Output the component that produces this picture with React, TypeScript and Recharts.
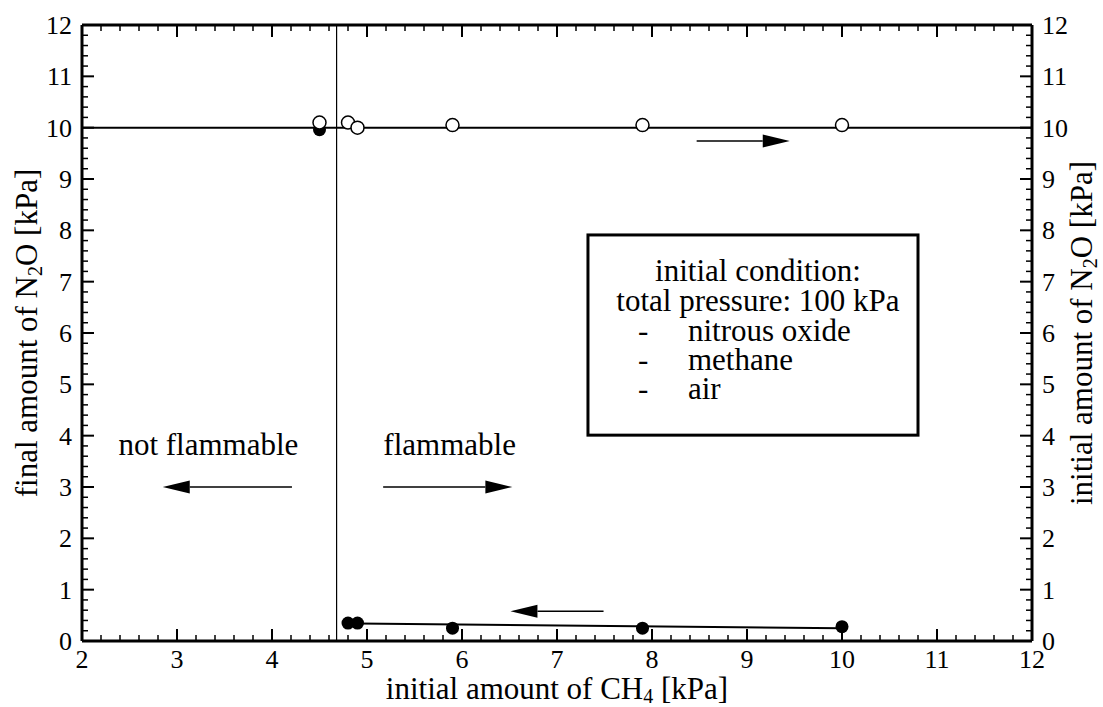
import { ComposedChart, Scatter, XAxis, YAxis, ReferenceLine, ReferenceArea, ReferenceDot } from 'recharts';

const FONT = '"Liberation Serif", "Times New Roman", serif';

// major tick labels (minor ticks every 0.2 in between)
const xMajorTicks = [2, 3, 4, 5, 6, 7, 8, 9, 10, 11, 12];
const yMajorTicks = [0, 1, 2, 3, 4, 5, 6, 7, 8, 9, 10, 11, 12];

// final amount of N2O (filled circles, left axis)
const finalN2O = [
  { x: 4.5, y: 9.96 },
  { x: 4.8, y: 0.35 },
  { x: 4.9, y: 0.35 },
  { x: 5.9, y: 0.25 },
  { x: 7.9, y: 0.25 },
  { x: 10.0, y: 0.28 },
];

// initial amount of N2O (open circles, right axis)
const initialN2O = [
  { x: 4.5, y: 10.1 },
  { x: 4.8, y: 10.1 },
  { x: 4.9, y: 10.0 },
  { x: 5.9, y: 10.05 },
  { x: 7.9, y: 10.05 },
  { x: 10.0, y: 10.05 },
];

const finalFit = [
  { x: 4.9, y: 0.34 },
  { x: 10.0, y: 0.25 },
];

const initialLevel = 10;
const flammabilityLimit = 4.68;

// arrows: from tail to head
const arrows = [
  { from: 8.47, to: 9.45, y: 9.74 },
  { from: 4.21, to: 2.85, y: 3.0 },
  { from: 5.17, to: 6.53, y: 3.0 },
  { from: 7.49, to: 6.51, y: 0.58 },
];

const notes = [
  { x: 3.33, y: 3.62, text: 'not flammable' },
  { x: 5.87, y: 3.62, text: 'flammable' },
];

const legendLines = ['initial condition:', 'total pressure: 100 kPa'];
const legendItems = ['nitrous oxide', 'methane', 'air'];

function subdivide(majors: number[]) {
  const out: number[] = [];
  for (let i = 0; i < majors.length - 1; i++) {
    for (let k = 0; k < 5; k++) out.push(Math.round((majors[i] + k * 0.2) * 10) / 10);
  }
  out.push(majors[majors.length - 1]);
  return out;
}
const xTicks = subdivide(xMajorTicks);
const yTicks = subdivide(yMajorTicks);

const isMajor = (v: number) => Math.abs(v - Math.round(v)) < 1e-6;

function BottomTick(props: any) {
  const { x, y, payload } = props;
  const m = isMajor(payload.value);
  return (
    <g>
      <line x1={x} x2={x} y1={y} y2={y - (m ? 12 : 6)} stroke="#000" strokeWidth={m ? 2 : 1.5} />
      {m && (
        <text x={x} y={y + 27} textAnchor="middle" fontSize={26} fontFamily={FONT} fill="#000">
          {Math.round(payload.value)}
        </text>
      )}
    </g>
  );
}

function TopTick(props: any) {
  const { x, y, payload } = props;
  const m = isMajor(payload.value);
  return <line x1={x} x2={x} y1={y} y2={y + (m ? 12 : 6)} stroke="#000" strokeWidth={m ? 2 : 1.5} />;
}

function LeftTick(props: any) {
  const { x, y, payload } = props;
  const m = isMajor(payload.value);
  return (
    <g>
      <line x1={x} x2={x + (m ? 12 : 6)} y1={y} y2={y} stroke="#000" strokeWidth={m ? 2 : 1.5} />
      {m && (
        <text x={x - 10} y={y + 9} textAnchor="end" fontSize={26} fontFamily={FONT} fill="#000">
          {Math.round(payload.value)}
        </text>
      )}
    </g>
  );
}

function RightTick(props: any) {
  const { x, y, payload } = props;
  const m = isMajor(payload.value);
  return (
    <g>
      <line x1={x} x2={x - (m ? 12 : 6)} y1={y} y2={y} stroke="#000" strokeWidth={m ? 2 : 1.5} />
      {m && (
        <text x={x + 10} y={y + 9} textAnchor="start" fontSize={26} fontFamily={FONT} fill="#000">
          {Math.round(payload.value)}
        </text>
      )}
    </g>
  );
}

function Arrow(props: any) {
  const { x1, y1, x2, y2 } = props;
  const dir = x2 > x1 ? 1 : -1;
  const head = 27;
  const half = 6.5;
  return (
    <g>
      <line x1={x1} y1={y1} x2={x2 - dir * head} y2={y2} stroke="#000" strokeWidth={1.5} />
      <polygon points={`${x2},${y2} ${x2 - dir * head},${y2 - half} ${x2 - dir * head},${y2 + half}`} fill="#000" />
    </g>
  );
}

function LegendBox(props: any) {
  const { x, y, width, height } = props;
  const textProps = { fontSize: 31, fontFamily: FONT, fill: '#000' };
  return (
    <g>
      <rect x={x} y={y} width={width} height={height} fill="#fff" stroke="#000" strokeWidth={3} />
      {legendLines.map((t, i) => (
        <text key={t} x={x + 170} y={y + 46 + i * 30} textAnchor="middle" {...textProps}>
          {t}
        </text>
      ))}
      {legendItems.map((t, i) => (
        <text key={t} y={y + 106 + i * 29} {...textProps}>
          <tspan x={x + 50}>-</tspan>
          <tspan x={x + 100}>{t}</tspan>
        </text>
      ))}
    </g>
  );
}

const openCircle = (p: any) => <circle cx={p.cx} cy={p.cy} r={6.5} fill="#fff" stroke="#000" strokeWidth={1.5} />;
const filledCircle = (p: any) => <circle cx={p.cx} cy={p.cy} r={6.5} fill="#000" />;

export default function App() {
  return (
    <div style={{ position: 'absolute', left: 0, top: 0, width: 1103, height: 707, background: '#fff' }}>
      <ComposedChart width={1103} height={707} margin={{ top: 24, right: 70, bottom: 65, left: 81 }}>
        <XAxis
          dataKey="x"
          type="number"
          domain={[2, 12]}
          ticks={xTicks}
          interval={0}
          height={1}
          tickSize={0}
          tickMargin={0}
          tick={<BottomTick />}
          axisLine={{ stroke: '#000', strokeWidth: 3 }}
          tickLine={false}
          allowDataOverflow
        />
        <XAxis
          xAxisId="top"
          orientation="top"
          dataKey="x"
          type="number"
          domain={[2, 12]}
          ticks={xTicks}
          interval={0}
          height={1}
          tickSize={0}
          tickMargin={0}
          tick={<TopTick />}
          axisLine={{ stroke: '#000', strokeWidth: 3 }}
          tickLine={false}
          allowDataOverflow
        />
        <YAxis
          dataKey="y"
          type="number"
          domain={[0, 12]}
          ticks={yTicks}
          interval={0}
          width={1}
          tickSize={0}
          tickMargin={0}
          tick={<LeftTick />}
          axisLine={{ stroke: '#000', strokeWidth: 3 }}
          tickLine={false}
          allowDataOverflow
        />
        <YAxis
          yAxisId="right"
          orientation="right"
          dataKey="y"
          type="number"
          domain={[0, 12]}
          ticks={yTicks}
          interval={0}
          width={1}
          tickSize={0}
          tickMargin={0}
          tick={<RightTick />}
          axisLine={{ stroke: '#000', strokeWidth: 3 }}
          tickLine={false}
          allowDataOverflow
        />

        <ReferenceLine x={flammabilityLimit} stroke="#000" strokeWidth={1.2} />
        <ReferenceLine y={initialLevel} yAxisId="right" stroke="#000" strokeWidth={2} />

        {arrows.map((a, i) => (
          <ReferenceLine
            key={i}
            segment={[
              { x: a.from, y: a.y },
              { x: a.to, y: a.y },
            ]}
            shape={<Arrow />}
          />
        ))}

        {notes.map((n) => (
          <ReferenceDot
            key={n.text}
            x={n.x}
            y={n.y}
            r={0}
            shape={(p: any) => (
              <text x={p.cx} y={p.cy} textAnchor="middle" fontSize={31} fontFamily={FONT} fill="#000">
                {n.text}
              </text>
            )}
          />
        ))}

        <ReferenceArea x1={7.326} x2={10.8} y1={4.01} y2={7.91} shape={<LegendBox />} />

        <Scatter
          data={finalFit}
          line={{ stroke: '#000', strokeWidth: 2 }}
          shape={() => <g />}
          isAnimationActive={false}
        />
        <Scatter data={finalN2O} shape={filledCircle} isAnimationActive={false} />
        <Scatter data={initialN2O} yAxisId="right" shape={openCircle} isAnimationActive={false} />
      </ComposedChart>

      <svg width={1103} height={707} style={{ position: 'absolute', left: 0, top: 0, pointerEvents: 'none' }}>
        <text x={557} y={699} textAnchor="middle" fontSize={31} fontFamily={FONT} fill="#000">
          initial amount of CH
          <tspan fontSize={20} dy={4}>4</tspan>
          <tspan dy={-4}> [kPa]</tspan>
        </text>
        <text
          x={0}
          y={0}
          transform="translate(37,333) rotate(-90)"
          textAnchor="middle"
          fontSize={31}
          fontFamily={FONT}
          fill="#000"
        >
          final amount of N<tspan fontSize={20} dy={5}>2</tspan>
          <tspan dy={-5}>O [kPa]</tspan>
        </text>
        <text
          x={0}
          y={0}
          transform="translate(1092,333) rotate(-90)"
          textAnchor="middle"
          fontSize={31}
          fontFamily={FONT}
          fill="#000"
        >
          initial amount of N<tspan fontSize={20} dy={5}>2</tspan>
          <tspan dy={-5}>O [kPa]</tspan>
        </text>
      </svg>
    </div>
  );
}
